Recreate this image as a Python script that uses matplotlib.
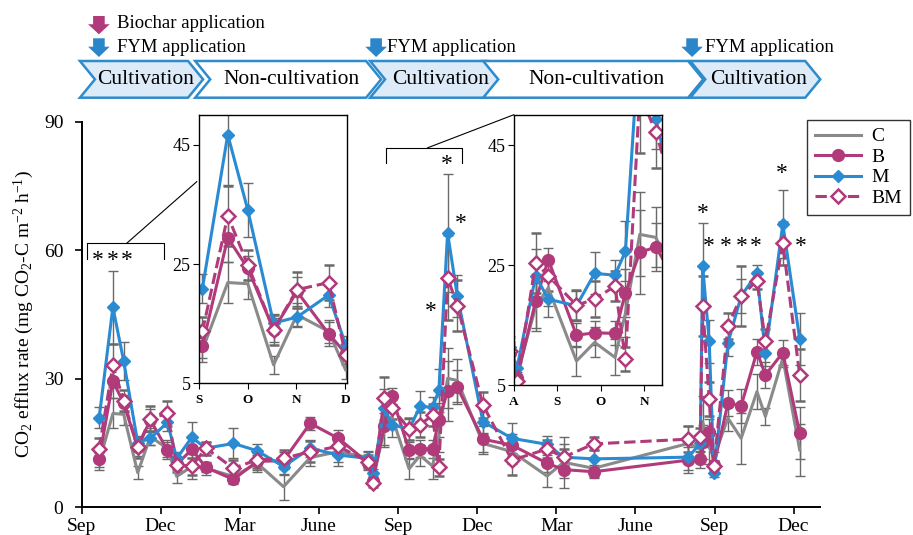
import matplotlib
matplotlib.use("Agg")
import matplotlib.pyplot as plt
from matplotlib.lines import Line2D
from matplotlib.patches import Polygon
from matplotlib.transforms import blended_transform_factory

plt.rcParams["font.family"] = ["Liberation Serif", "DejaVu Serif"]
plt.rcParams["mathtext.fontset"] = "custom"
plt.rcParams["mathtext.rm"] = "Liberation Serif"
plt.rcParams["mathtext.it"] = "Liberation Serif:italic"

# sampling dates, in months after 1 September of the first year
months = [0.67, 1.19, 1.60, 2.13, 2.61, 3.26, 3.61, 4.18, 4.72, 5.76,
          6.66, 7.66, 8.67, 9.74, 10.88, 11.05, 11.48, 11.77, 12.42, 12.84,
          13.31, 13.55, 13.88, 14.25, 15.22, 16.32, 17.65, 18.28, 19.42, 23.00,
          23.46, 23.55, 23.80, 23.98, 24.51, 25.01, 25.61, 25.93, 26.59, 27.23]

# CO2 efflux rate (mg CO2-C m-2 h-1)
flux_c = [10.6, 21.9, 21.7, 8.1, 16.5, 13.7, 7.2, 9.5, 9.1, 7.2,
          10.3, 4.8, 11.6, 13.0, 11.6, 6.8, 18.0, 21.2, 9.0, 12.1,
          9.6, 17.0, 30.1, 29.6, 14.9, 13.0, 7.3, 10.5, 9.1, 14.9,
          13.5, 20.0, 14.0, 11.8, 20.8, 16.1, 27.0, 21.2, 34.8, 13.4]
flux_b = [11.3, 29.4, 24.3, 14.0, 20.4, 13.3, 10.0, 13.5, 9.3, 6.5,
          10.7, 10.9, 19.6, 16.1, 10.3, 6.2, 19.0, 25.9, 13.3, 13.7,
          13.6, 20.4, 27.1, 28.0, 15.9, 14.5, 10.3, 8.8, 8.3, 11.0,
          11.2, 15.3, 17.5, 9.9, 24.3, 23.7, 36.3, 30.9, 36.1, 17.3]
flux_m = [20.9, 46.7, 34.1, 15.1, 16.1, 19.8, 11.4, 16.3, 13.8, 14.9,
          13.2, 9.5, 13.8, 12.2, 11.4, 7.9, 23.2, 19.3, 18.2, 23.6,
          23.3, 27.3, 64.0, 49.3, 20.0, 16.1, 14.7, 11.7, 11.3, 11.7,
          14.9, 56.3, 38.7, 8.0, 38.3, 49.3, 54.6, 35.9, 66.1, 39.3]
flux_bm = [13.7, 33.1, 24.9, 14.0, 20.7, 21.9, 9.8, 9.6, 13.8, 9.1,
           11.1, 11.4, 13.0, 14.2, 10.6, 5.7, 25.4, 23.2, 18.3, 19.3,
           21.5, 9.3, 53.6, 47.1, 23.9, 11.0, 13.6, 11.7, 14.8, 15.9,
           16.5, 47.0, 25.2, 9.7, 42.3, 49.3, 52.9, 38.7, 61.6, 30.9]

# standard errors
err_c = [2.0, 3.5, 2.5, 1.5, 2.0, 2.0, 1.5, 3.0, 1.5, 1.5,
         2.0, 3.0, 2.0, 2.5, 1.5, 1.0, 4.0, 3.0, 2.5, 2.5,
         3.0, 4.0, 7.0, 5.0, 2.5, 3.0, 2.5, 6.0, 2.0, 4.0,
         3.0, 6.0, 4.0, 1.0, 3.0, 6.0, 4.0, 2.0, 2.0, 6.0]
err_b = [2.0, 4.0, 2.0, 2.0, 2.5, 2.0, 1.0, 2.0, 1.0, 1.0,
         2.0, 2.0, 1.5, 2.0, 1.5, 1.0, 4.5, 2.0, 2.0, 2.0,
         2.0, 4.0, 7.0, 4.0, 3.0, 2.5, 2.0, 2.0, 1.5, 3.0,
         2.0, 4.0, 3.0, 1.0, 3.0, 4.0, 3.0, 3.0, 3.0, 6.0]
err_m = [2.5, 8.5, 4.5, 1.5, 1.5, 2.0, 1.5, 3.5, 1.5, 3.5,
         1.5, 2.0, 2.0, 2.5, 1.5, 1.0, 4.5, 3.0, 2.5, 3.5,
         2.5, 5.0, 13.7, 5.0, 3.0, 3.5, 2.0, 3.0, 2.0, 3.0,
         2.0, 10.0, 5.0, 1.0, 3.0, 4.0, 2.0, 3.0, 8.0, 6.0]
err_bm = [2.5, 5.0, 2.5, 2.5, 3.0, 3.0, 1.5, 2.0, 1.5, 2.0,
          2.0, 2.0, 2.5, 2.0, 1.5, 1.0, 5.0, 2.5, 2.5, 3.0,
          2.5, 2.0, 10.0, 6.0, 3.0, 3.5, 2.0, 2.0, 1.5, 3.0,
          2.0, 7.0, 4.0, 1.0, 3.0, 7.0, 2.0, 3.0, 5.0, 6.0]

tick_pos = [0, 3, 6, 9, 12, 15, 18, 21, 24, 27]
tick_labels = ["Sep", "Dec", "Mar", "June", "Sep", "Dec", "Mar", "June", "Sep", "Dec"]

# significance marks
star_x = [0.62, 1.18, 1.70, 13.25, 13.85, 14.38,
          23.55, 23.78, 24.44, 25.02, 25.58, 26.56, 27.26]
star_y = [57.7, 57.7, 57.7, 45.7, 79.9, 66.3,
          68.6, 60.9, 60.9, 60.9, 60.9, 78.0, 60.9]

# management stages along the top
stage_names = ["Cultivation", "Non-cultivation", "Cultivation", "Non-cultivation", "Cultivation"]
stage_start = [-0.06, 4.31, 10.94, 15.23, 23.08]
stage_end = [4.61, 11.36, 15.99, 23.57, 28.01]
fym_dates = [0.66, 11.17, 23.15]
fym_label_x = [1.34, 11.59, 23.65]
biochar_dates = [0.66]

# zoomed periods: x window and month ticks
inset1_xlim = (0.60, 3.63)
inset1_ticks = [0.60, 1.60, 2.60, 3.60]
inset1_labels = ["S", "O", "N", "D"]
inset2_xlim = (10.98, 14.40)
inset2_ticks = [10.98, 11.98, 12.98, 13.98]
inset2_labels = ["A", "S", "O", "N"]

GREY = "#8a8a8a"
MAGENTA = "#b03a7a"
BLUE = "#2a8bd2"
ERR = "#6a6a6a"
W, H = 913, 535


def fx(px):
    return px / W


def fy(py):
    return 1 - py / H


series = [
    (flux_c, err_c, dict(color=GREY, lw=2.2)),
    (flux_b, err_b, dict(color=MAGENTA, lw=2.2, marker="o", ms=8.5)),
    (flux_m, err_m, dict(color=BLUE, lw=2.2, marker="D", ms=6.5)),
    (flux_bm, err_bm, dict(color=MAGENTA, lw=2.2, ls="--", marker="D", ms=7.3,
                           mfc="white", mew=1.8)),
]


def draw_series(axis):
    for vals, errs, style in series:
        axis.errorbar(months, vals, yerr=errs, ecolor=ERR, elinewidth=1.0,
                      capsize=3.5, capthick=1.0, **style)


fig = plt.figure(figsize=(W / 100, H / 100), dpi=100)
ax = fig.add_axes([fx(81.5), fy(507.3), fx(820) - fx(81.5), fy(121.7) - fy(507.3)])
draw_series(ax)
ax.set_xlim(0, 28)
ax.set_ylim(0, 90)
ax.set_xticks(tick_pos)
ax.set_xticklabels(tick_labels)
ax.set_yticks([0, 30, 60, 90])
ax.spines["top"].set_visible(False)
ax.spines["right"].set_visible(False)
for s in ["left", "bottom"]:
    ax.spines[s].set_linewidth(1.4)
ax.tick_params(axis="both", labelsize=14, width=1.2, length=5)
ax.tick_params(axis="y", pad=8)
ax.tick_params(axis="x", pad=3)
ax.set_ylabel(r"CO$_2$ efflux rate (mg CO$_2$-C m$^{-2}$ h$^{-1}$)", fontsize=14, labelpad=5.5)

for x, y in zip(star_x, star_y):
    ax.text(x, y, "*", ha="center", va="center", fontsize=17)

# brackets and connectors to the insets
ax.plot([0.21, 0.21, 3.13, 3.13], [58.0, 61.6, 61.6, 58.0], color="black", lw=0.8)
ax.plot([1.71, 4.37], [61.6, 76.0], color="black", lw=0.8)
ax.plot([11.54, 11.54, 14.42, 14.42], [80.3, 83.8, 83.8, 80.3], color="black", lw=0.8)
ax.plot([13.12, 16.38], [83.9, 91.6], color="black", lw=0.8, clip_on=False)

# insets
for rect, xlim, ticks, labels in [
    ([fx(199), fy(383.3), fx(346.7) - fx(199), fy(115) - fy(383.3)], inset1_xlim, inset1_ticks, inset1_labels),
    ([fx(514), fy(385), fx(662.3) - fx(514), fy(115) - fy(385)], inset2_xlim, inset2_ticks, inset2_labels),
]:
    axi = fig.add_axes(rect)
    draw_series(axi)
    axi.set_xlim(*xlim)
    axi.set_ylim(5, 50)
    axi.set_yticks([5, 25, 45])
    axi.set_xticks(ticks)
    axi.set_xticklabels(labels, fontweight="bold")
    axi.tick_params(axis="y", labelsize=13, length=4, pad=2)
    axi.tick_params(axis="x", labelsize=9.5, length=4, pad=4)
    for s in axi.spines.values():
        s.set_linewidth(1.0)

# stage chevrons above the plot
tr = blended_transform_factory(ax.transData, fig.transFigure)
top, bot = fy(61), fy(97.7)
mid = (top + bot) / 2
d = 0.57
for name, x0, x1 in zip(stage_names, stage_start, stage_end):
    fill = "#dcebf7" if name == "Cultivation" else "white"
    pts = [(x0, top), (x1 - d, top), (x1, mid), (x1 - d, bot), (x0, bot), (x0 + d, mid)]
    fig.add_artist(Polygon(pts, closed=True, transform=tr, facecolor=fill,
                           edgecolor="#2e8bcc", lw=1.8, clip_on=False))
    fig.text((x0 + x1 + d) / 2 - 0.15, mid, name, transform=tr, ha="center",
             va="center", fontsize=15.5)


def block_arrow(x, y_top, y_bot, color):
    sw, hw = 0.22, 0.41
    y_neck = y_top + (y_bot - y_top) * 0.45
    pts = [(x - sw, y_top), (x + sw, y_top), (x + sw, y_neck), (x + hw, y_neck),
           (x, y_bot), (x - hw, y_neck), (x - sw, y_neck)]
    fig.add_artist(Polygon(pts, closed=True, transform=tr, facecolor=color,
                           edgecolor="none", clip_on=False))


for x in biochar_dates:
    block_arrow(x, fy(16), fy(34.3), MAGENTA)
    fig.text(x + 0.68, fy(24), "Biochar application", transform=tr,
             ha="left", va="center", fontsize=13.5)
for x, lx in zip(fym_dates, fym_label_x):
    block_arrow(x, fy(38.3), fy(57), "#2a86c9")
    fig.text(lx, fy(47.5), "FYM application", transform=tr,
             ha="left", va="center", fontsize=13.5)

handles = [
    Line2D([], [], color=GREY, lw=2.2),
    Line2D([], [], color=MAGENTA, lw=2.2, marker="o", ms=8.5),
    Line2D([], [], color=BLUE, lw=2.2, marker="D", ms=6.5),
    Line2D([], [], color=MAGENTA, lw=2.2, ls="--", marker="D", ms=7.3, mfc="white", mew=1.8),
]
leg = fig.legend(handles, ["C", "B", "M", "BM"], loc="upper left",
                 bbox_to_anchor=(fx(807), fy(120)), frameon=True, fancybox=False,
                 edgecolor="black", fontsize=14, handlelength=2.4, labelspacing=0.15,
                 borderpad=0.4, handletextpad=0.5, borderaxespad=0)
leg.get_frame().set_linewidth(1.0)

fig.savefig("out.png", dpi=100)
